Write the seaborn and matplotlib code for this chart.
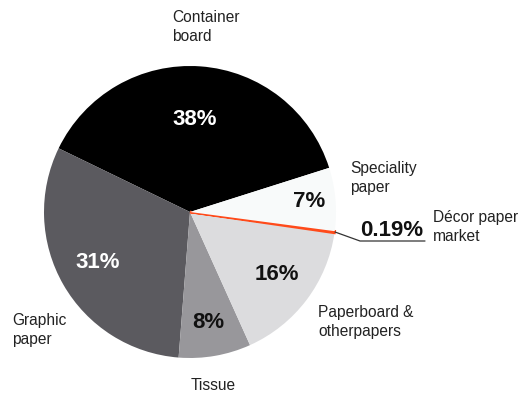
import matplotlib
matplotlib.use("Agg")
import matplotlib.pyplot as plt
import seaborn as sns

sns.set_theme(style="white")
plt.rcParams['font.family'] = ['Liberation Sans', 'DejaVu Sans']

categories = ["Container\nboard", "Graphic\npaper", "Tissue", "Paperboard &\notherpapers",
              "Décor paper\nmarket", "Speciality\npaper"]
values = [38, 31, 8, 16, 0.19, 7]
pct_labels = ["38%", "31%", "8%", "16%", "0.19%", "7%"]
colors = ["#000000", "#5b5a5f", "#98979b", "#dcdcde", "#ff4a1a", "#f8fafa"]
pct_colors = ["white", "white", "#111111", "#111111", "#111111", "#111111"]

W, H = 520, 394
fig = plt.figure(figsize=(W / 100, H / 100), dpi=100)
ax = fig.add_axes([0, 0, 1, 1])

cx, cy, R = 190, H - 212, 146
wedges, _ = ax.pie(values, colors=colors, startangle=17.6, counterclock=True,
                   center=(cx, cy), radius=R, wedgeprops=dict(linewidth=0))
wedges[4].set_edgecolor(colors[4])
wedges[4].set_linewidth(1.8)

ax.set_xlim(0, W)
ax.set_ylim(0, H)
ax.set_aspect('equal')
ax.axis('off')

def P(x, y):
    return x, H - y

# category labels (pixel positions of reference)
cat_pos = [(172, 27), (12, 330), (191, 385), (318, 322), (433, 227), (350, 178)]
for lab, (x, y) in zip(categories, cat_pos):
    ax.text(*P(x, y), lab, ha='left', va='center', fontsize=11.2,
            color='#222222', linespacing=1.38)

# percentage labels
pct_pos = [(195, 119), (98, 263), (208, 323), (277, 274), (392, 230), (309, 201)]
for lab, (x, y), c in zip(pct_labels, pct_pos, pct_colors):
    ax.text(*P(x, y), lab, ha='center', va='center', fontsize=16,
            fontweight='bold', color=c)

# leader line for décor paper
ax.plot([P(335, 232)[0], P(360, 241)[0], P(425, 241)[0]],
        [P(335, 232)[1], P(360, 241)[1], P(425, 241)[1]],
        color='#333333', linewidth=0.9)

fig.savefig("out.png", dpi=100)
